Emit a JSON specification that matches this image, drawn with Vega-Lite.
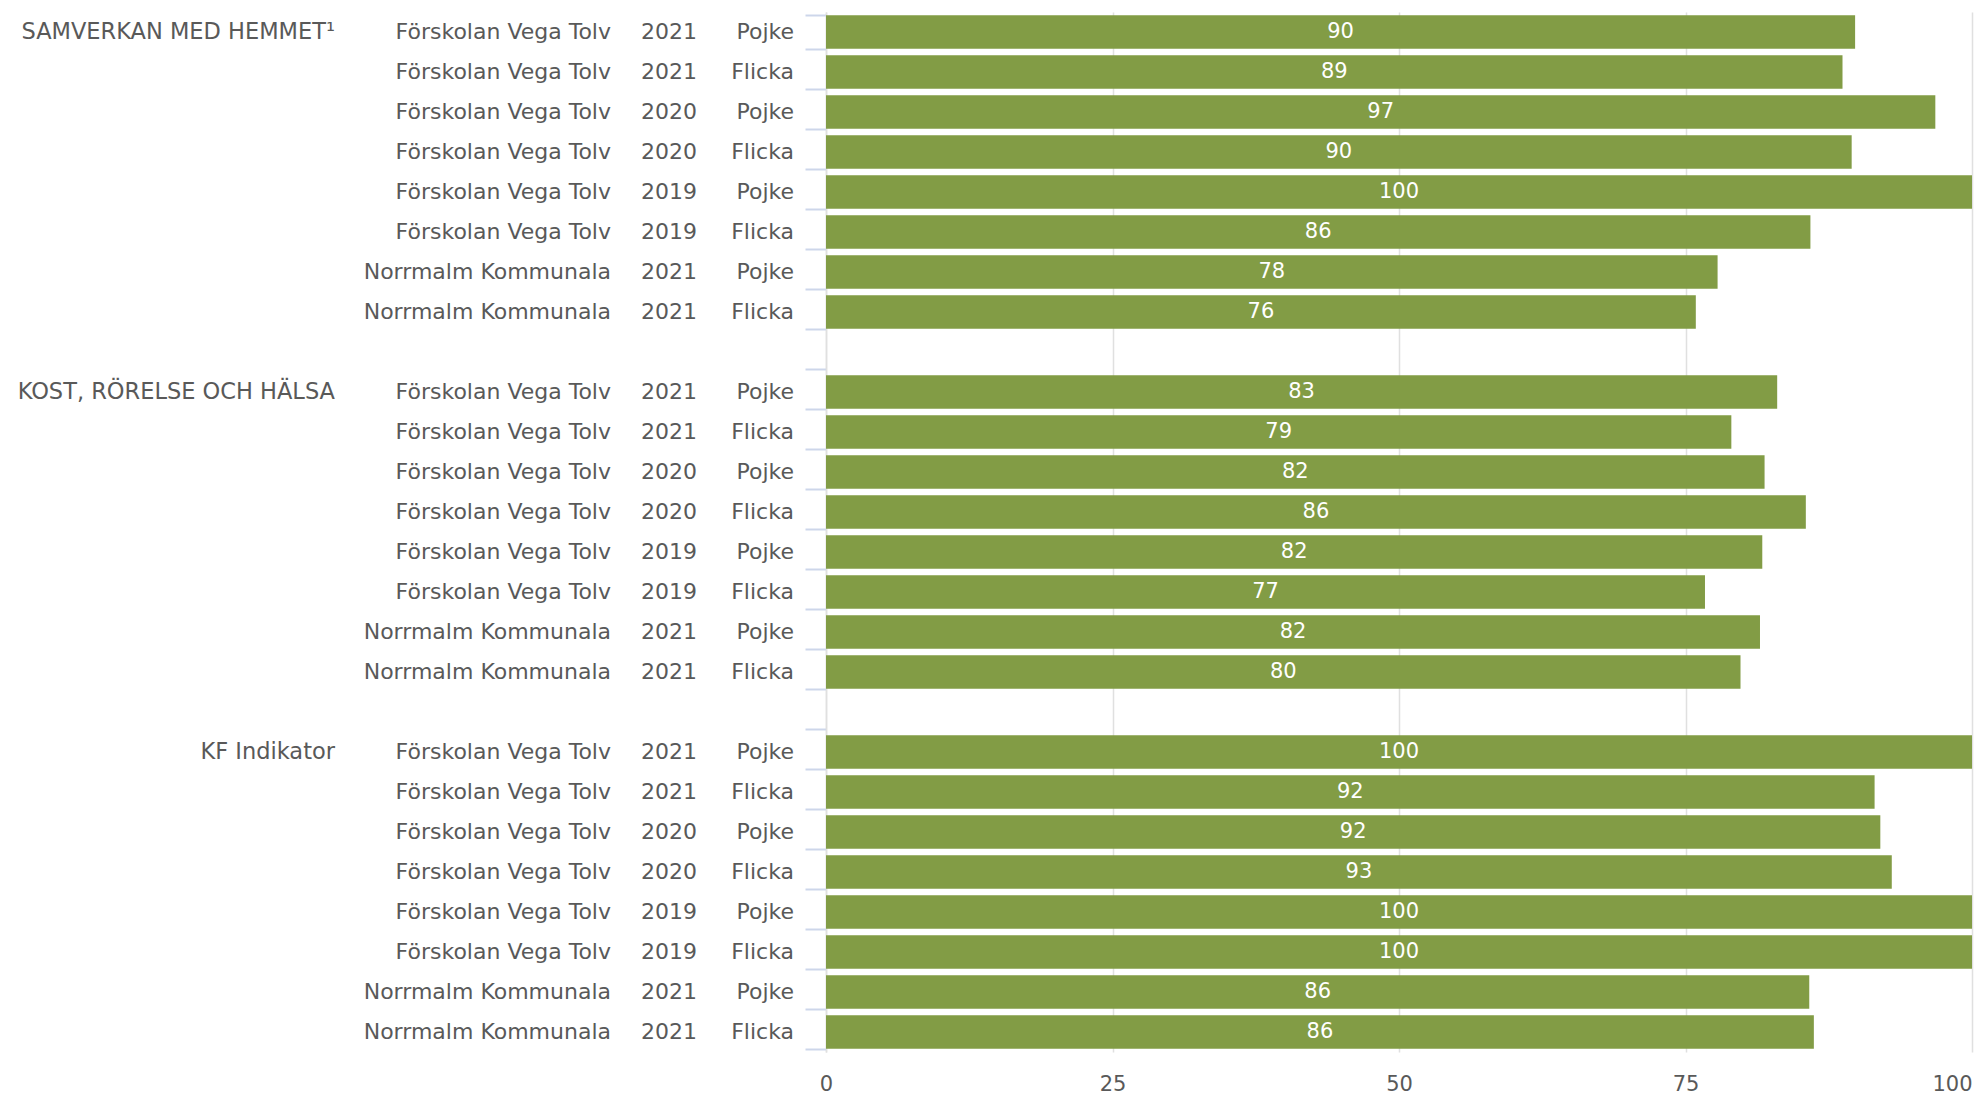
{
  "$schema": "https://vega.github.io/schema/vega-lite/v6.json",
  "padding": {"left": 0, "top": 12, "right": 3, "bottom": 0},
  "background": "white",
  "bounds": "flush",
  "spacing": 0,
  "config": {"view": {"stroke": null}, "font": "DejaVu Sans"},
  "datasets": {
    "rows": [
      {"row": "S1", "school": "Förskolan Vega Tolv", "year": "2021", "gender": "Pojke", "value": 89.8},
      {"row": "S2", "school": "Förskolan Vega Tolv", "year": "2021", "gender": "Flicka", "value": 88.7},
      {"row": "S3", "school": "Förskolan Vega Tolv", "year": "2020", "gender": "Pojke", "value": 96.8},
      {"row": "S4", "school": "Förskolan Vega Tolv", "year": "2020", "gender": "Flicka", "value": 89.5},
      {"row": "S5", "school": "Förskolan Vega Tolv", "year": "2019", "gender": "Pojke", "value": 100},
      {"row": "S6", "school": "Förskolan Vega Tolv", "year": "2019", "gender": "Flicka", "value": 85.9},
      {"row": "S7", "school": "Norrmalm Kommunala", "year": "2021", "gender": "Pojke", "value": 77.8},
      {"row": "S8", "school": "Norrmalm Kommunala", "year": "2021", "gender": "Flicka", "value": 75.9},
      {"row": "K1", "school": "Förskolan Vega Tolv", "year": "2021", "gender": "Pojke", "value": 83.0},
      {"row": "K2", "school": "Förskolan Vega Tolv", "year": "2021", "gender": "Flicka", "value": 79.0},
      {"row": "K3", "school": "Förskolan Vega Tolv", "year": "2020", "gender": "Pojke", "value": 81.9},
      {"row": "K4", "school": "Förskolan Vega Tolv", "year": "2020", "gender": "Flicka", "value": 85.5},
      {"row": "K5", "school": "Förskolan Vega Tolv", "year": "2019", "gender": "Pojke", "value": 81.7},
      {"row": "K6", "school": "Förskolan Vega Tolv", "year": "2019", "gender": "Flicka", "value": 76.7},
      {"row": "K7", "school": "Norrmalm Kommunala", "year": "2021", "gender": "Pojke", "value": 81.5},
      {"row": "K8", "school": "Norrmalm Kommunala", "year": "2021", "gender": "Flicka", "value": 79.8},
      {"row": "F1", "school": "Förskolan Vega Tolv", "year": "2021", "gender": "Pojke", "value": 100},
      {"row": "F2", "school": "Förskolan Vega Tolv", "year": "2021", "gender": "Flicka", "value": 91.5},
      {"row": "F3", "school": "Förskolan Vega Tolv", "year": "2020", "gender": "Pojke", "value": 92.0},
      {"row": "F4", "school": "Förskolan Vega Tolv", "year": "2020", "gender": "Flicka", "value": 93.0},
      {"row": "F5", "school": "Förskolan Vega Tolv", "year": "2019", "gender": "Pojke", "value": 100},
      {"row": "F6", "school": "Förskolan Vega Tolv", "year": "2019", "gender": "Flicka", "value": 100},
      {"row": "F7", "school": "Norrmalm Kommunala", "year": "2021", "gender": "Pojke", "value": 85.8},
      {"row": "F8", "school": "Norrmalm Kommunala", "year": "2021", "gender": "Flicka", "value": 86.2}
    ],
    "groups": [
      {"row": "S1", "label": "SAMVERKAN MED HEMMET¹"},
      {"row": "K1", "label": "KOST, RÖRELSE OCH HÄLSA"},
      {"row": "F1", "label": "KF Indikator"}
    ]
  },
  "hconcat": [
    {
      "width": 335, "height": 1040,
      "data": {"name": "groups"},
      "mark": {"type": "text", "align": "right", "baseline": "middle", "fontSize": 22.5, "color": "#595959"},
      "encoding": {
        "x": {"value": "width"},
        "y": {"field": "row", "type": "nominal", "axis": null,
              "scale": {"domain": ["S1","S2","S3","S4","S5","S6","S7","S8","G1","K1","K2","K3","K4","K5","K6","K7","K8","G2","F1","F2","F3","F4","F5","F6","F7","F8"], "paddingInner": 0.16, "paddingOuter": 0.08}},
        "text": {"field": "label"}
      }
    },
    {
      "width": 276, "height": 1040,
      "data": {"name": "rows"},
      "mark": {"type": "text", "align": "right", "baseline": "middle", "fontSize": 22, "color": "#595959"},
      "encoding": {
        "x": {"value": "width"},
        "y": {"field": "row", "type": "nominal", "axis": null,
              "scale": {"domain": ["S1","S2","S3","S4","S5","S6","S7","S8","G1","K1","K2","K3","K4","K5","K6","K7","K8","G2","F1","F2","F3","F4","F5","F6","F7","F8"], "paddingInner": 0.16, "paddingOuter": 0.08}},
        "text": {"field": "school"}
      }
    },
    {
      "width": 86, "height": 1040,
      "data": {"name": "rows"},
      "mark": {"type": "text", "align": "right", "baseline": "middle", "fontSize": 22, "color": "#595959"},
      "encoding": {
        "x": {"value": "width"},
        "y": {"field": "row", "type": "nominal", "axis": null,
              "scale": {"domain": ["S1","S2","S3","S4","S5","S6","S7","S8","G1","K1","K2","K3","K4","K5","K6","K7","K8","G2","F1","F2","F3","F4","F5","F6","F7","F8"], "paddingInner": 0.16, "paddingOuter": 0.08}},
        "text": {"field": "year"}
      }
    },
    {
      "width": 129, "height": 1040,
      "data": {"name": "rows"},
      "mark": {"type": "text", "align": "right", "baseline": "middle", "fontSize": 22, "color": "#595959", "dx": -32},
      "encoding": {
        "x": {"value": "width"},
        "y": {"field": "row", "type": "nominal", "axis": null,
              "scale": {"domain": ["S1","S2","S3","S4","S5","S6","S7","S8","G1","K1","K2","K3","K4","K5","K6","K7","K8","G2","F1","F2","F3","F4","F5","F6","F7","F8"], "paddingInner": 0.16, "paddingOuter": 0.08}},
        "text": {"field": "gender"}
      }
    },
    {
      "width": 1146, "height": 1040,
      "data": {"name": "rows"},
      "encoding": {
        "y": {"field": "row", "type": "nominal",
              "scale": {"domain": ["S1","S2","S3","S4","S5","S6","S7","S8","G1","K1","K2","K3","K4","K5","K6","K7","K8","G2","F1","F2","F3","F4","F5","F6","F7","F8"], "paddingInner": 0.16, "paddingOuter": 0.08},
              "axis": {"labels": false, "title": null, "tickBand": "extent", "tickSize": 21, "tickWidth": 2, "tickColor": "#cdd6ea", "domain": true, "domainColor": "#e0e0e0", "domainWidth": 1.5, "grid": false}}
      },
      "layer": [
        {
          "mark": {"type": "bar", "color": "#829c45"},
          "encoding": {
            "x": {"field": "value", "type": "quantitative",
                  "scale": {"domain": [0, 100], "nice": false},
                  "axis": {"values": [0, 25, 50, 75, 100], "title": null, "grid": true, "gridColor": "#e0e0e0", "gridWidth": 1.5, "domain": false, "ticks": false, "labelFontSize": 21, "labelColor": "#595959", "labelPadding": 21, "labelFlush": false,
                           "labelAlign": {"condition": {"test": "datum.value == 100", "value": "right"}, "value": "center"}}}
          }
        },
        {
          "mark": {"type": "text", "align": "center", "baseline": "middle", "fontSize": 21, "color": "white"},
          "encoding": {
            "x": {"field": "value", "type": "quantitative", "scale": {"domain": [0, 200], "nice": false}, "axis": null},
            "text": {"field": "value", "type": "quantitative", "format": ".0f"}
          }
        }
      ],
      "resolve": {"scale": {"x": "independent"}}
    }
  ]
}
